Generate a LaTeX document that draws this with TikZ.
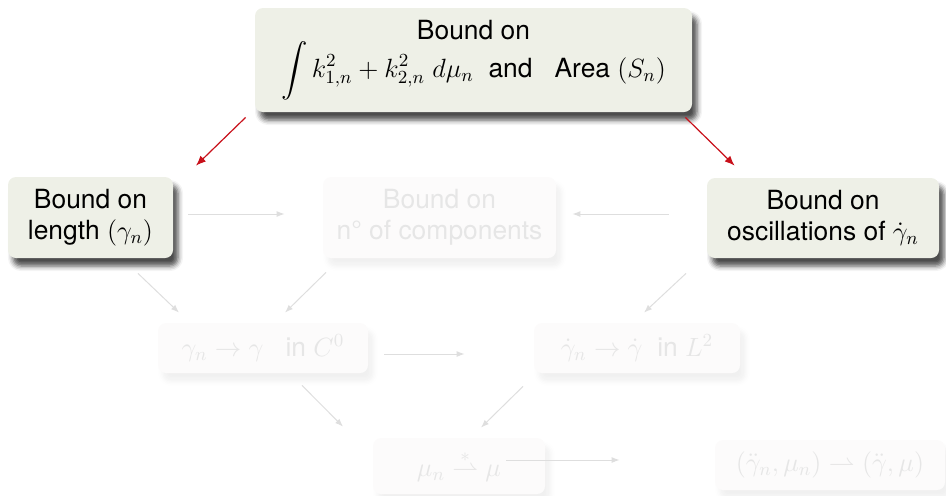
\documentclass[tikz,border=0pt]{standalone}
\usepackage{fix-cm}
\usepackage{amsmath,amssymb}
\usepackage[no-math]{fontspec}
\setmainfont{TeX Gyre Heros}
\usetikzlibrary{positioning,arrows.meta,shadows.blur}
\definecolor{boxgreen}{RGB}{238,240,231}
\definecolor{ghostfill}{RGB}{252,251,251}
\definecolor{ghosttext}{RGB}{230,230,230}
\definecolor{ghostline}{RGB}{222,222,222}
\definecolor{impred}{RGB}{200,16,26}
\tikzset{
  bnd/.style={fill=boxgreen,rounded corners=4pt,align=center,inner sep=2pt,font=\fontsize{13.2}{15.5}\selectfont,
    blur shadow={shadow xshift=2.5pt,shadow yshift=-4pt,shadow blur radius=2.5pt,shadow opacity=70}},
  fad/.style={fill=ghostfill,text=ghosttext,rounded corners=4pt,align=center,inner sep=2pt,font=\fontsize{13.2}{15.5}\selectfont,
    blur shadow={shadow xshift=2.5pt,shadow yshift=-4pt,shadow blur radius=2.5pt,shadow opacity=6}},
  imp/.style={impred,line width=0.6pt,-{Latex[length=5pt,width=4pt]}},
  fleg/.style={ghostline,line width=0.5pt,-{Latex[length=4pt,width=3pt]}}
}

\begin{document}
\begin{tikzpicture}[x=0.5pt,y=-0.5pt]
  \useasboundingbox (0,0) rectangle (946,495);
  % bounds
  \node[bnd,minimum width=218.5pt,minimum height=52pt] (top) at (473.5,60)
    {Bound on\\ $\displaystyle\int k_{1,n}^2+k_{2,n}^2\;d\mu_n$ \ and \ \ Area $(S_n)$};
  \node[bnd,minimum width=82.5pt,minimum height=40.5pt] (len) at (90.5,217.5) {Bound on\\ length $(\gamma_n)$};
  \node[fad,minimum width=116.5pt,minimum height=40.5pt] (comp) at (439.5,217.5) {Bound on\\ n° of components};
  \node[bnd,minimum width=116pt,minimum height=40pt] (osc) at (823,218) {Bound on\\ oscillations of $\dot\gamma_n$};
  % convergences
  \node[fad,minimum width=105pt,minimum height=25pt] (cz) at (263,348) {$\gamma_n\to\gamma$ \ \ in $C^0$};
  \node[fad,minimum width=103pt,minimum height=25pt] (ltwo) at (637,348) {$\dot\gamma_n\to\dot\gamma$ \ in $L^2$};
  \node[fad,minimum width=86pt,minimum height=28pt] (mu) at (459,466) {$\mu_n\overset{*}{\rightharpoonup}\mu$};
  \node[fad,minimum width=115pt,minimum height=25pt] (fin) at (830,465) {$(\ddot\gamma_n,\mu_n)\rightharpoonup(\ddot\gamma,\mu)$};
  % arrows
  \draw[imp] ([xshift=-4.5pt,yshift=-2.5pt]top.south west) -- ([xshift=52.75pt,yshift=5.5pt]len.north);
  \draw[imp] ([xshift=-3.5pt,yshift=-2.5pt]top.south east) -- ([xshift=14pt,yshift=6pt]osc.north west);
  \draw[fleg] ([xshift=7.5pt,yshift=1.75pt]len.east) -- ([xshift=-19pt,yshift=1.75pt]comp.west);
  \draw[fleg] ([xshift=-19pt,yshift=2pt]osc.west) -- ([xshift=8pt,yshift=1.75pt]comp.east);
  \draw[fleg] ([xshift=23.75pt,yshift=-7.5pt]len.south) -- ([xshift=-42pt,yshift=5pt]cz.north);
  \draw[fleg] ([xshift=-56.75pt,yshift=-7pt]comp.south) -- ([xshift=11pt,yshift=5pt]cz.north);
  \draw[fleg] ([xshift=-68.5pt,yshift=-7.5pt]osc.south) -- ([xshift=3.5pt,yshift=5pt]ltwo.north);
  \draw[fleg] ([xshift=8pt,yshift=-3pt]cz.east) -- ([xshift=-34.5pt,yshift=-3pt]ltwo.west);
  \draw[fleg] ([xshift=19.5pt,yshift=-6pt]cz.south) -- ([xshift=-58pt,yshift=5.5pt]mu.north);
  \draw[fleg] ([xshift=-57pt,yshift=-6.5pt]ltwo.south) -- ([xshift=11pt,yshift=5pt]mu.north);
  \draw[fleg] ([xshift=-19.5pt,yshift=3pt]mu.east) -- ([xshift=-47.5pt,yshift=2.5pt]fin.west);
\end{tikzpicture}
\end{document}
